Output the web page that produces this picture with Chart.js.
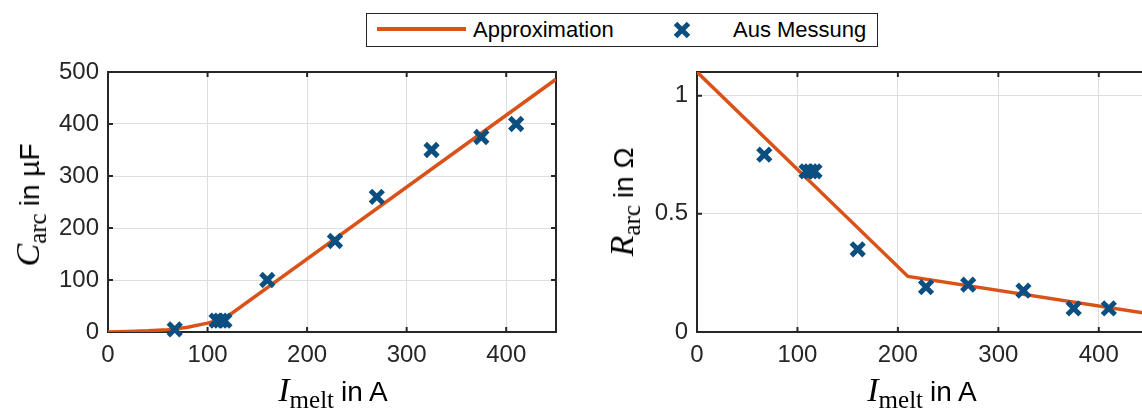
<!DOCTYPE html>
<html>
<head>
<meta charset="utf-8">
<script src="https://cdn.jsdelivr.net/npm/chart.js@4"></script>
<style>
  html, body { margin: 0; padding: 0; background: #fff; }
  body { width: 1142px; height: 419px; position: relative; overflow: hidden; }
  canvas { position: absolute; top: 0; }
  .lbl { position: absolute; white-space: nowrap; color: #000; font-family: 'Liberation Sans', Arial, sans-serif; font-size: 28px; }
  .m { font-family: 'Liberation Serif', serif; font-style: italic; font-size: 34px; }
  .s { font-family: 'Liberation Serif', serif; font-size: 25px; position: relative; top: 7px; margin-right: 7px; }
  #legend { position: absolute; left: 366px; top: 13px; width: 510px; height: 32px; border: 1px solid #262626; background: #fff;
            font-family: 'Liberation Sans', Arial, sans-serif; font-size: 22px; color: #000; }
  #legend span { position: absolute; top: 3px; }
</style>
</head>
<body>
<canvas id="cChart" width="570" height="419" style="left:0px"></canvas>
<canvas id="rChart" width="574" height="419" style="left:589px"></canvas>

<div id="legend">
  <div style="position:absolute;left:10px;top:13px;width:89px;height:4px;background:#d95319"></div>
  <span style="left:106px">Approximation</span>
  <svg style="position:absolute;left:304px;top:5px" width="22" height="22"><path d="M4.5 4.5 L17.5 17.5 M17.5 4.5 L4.5 17.5" stroke="#0b4f80" stroke-width="5"/></svg>
  <span style="left:366px">Aus Messung</span>
</div>

<div class="lbl" style="left:28px;top:205px;transform:translate(-50%,-50%) rotate(-90deg)"><span class="m">C</span><span class="s">arc</span>in µF</div>
<div class="lbl" style="left:622px;top:202px;transform:translate(-50%,-50%) rotate(-90deg)"><span class="m">R</span><span class="s">arc</span>in Ω</div>
<div class="lbl" style="left:333px;top:390px;transform:translate(-50%,-50%)"><span class="m">I</span><span class="s">melt</span>in A</div>
<div class="lbl" style="left:922px;top:390px;transform:translate(-50%,-50%)"><span class="m">I</span><span class="s">melt</span>in A</div>

<script>
// measured points (I_melt in A)
var xMess = [67, 109, 113, 117, 160, 228, 270, 325, 375, 410];
var cMess = [5, 22, 22, 22, 100, 175, 260, 350, 375, 400];
var rMess = [0.75, 0.68, 0.68, 0.68, 0.35, 0.19, 0.20, 0.175, 0.10, 0.10];

// approximation curves
var cFitX = [0, 20, 40, 60, 80, 100, 110, 120, 450];
var cFit  = [0, 1, 2.2, 4.5, 9, 17, 22, 30, 486];
var rFitX = [0, 210, 450];
var rFit  = [1.1, 0.235, 0.077];

// axis ticks
var xTicks = [0, 100, 200, 300, 400];
var cTicks = [0, 100, 200, 300, 400, 500];
var rTicks = [0, 0.5, 1];

function pts(xs, ys) {
  return xs.map(function (x, i) { return { x: x, y: ys[i] }; });
}

// matlab style box with inward ticks
var boxPlugin = {
  id: 'box',
  beforeDatasetsDraw: function (chart) {
    var ctx = chart.ctx, a = chart.chartArea, sx = chart.scales.x, sy = chart.scales.y;
    ctx.save();
    ctx.strokeStyle = '#262626';
    ctx.lineWidth = 2;
    ctx.strokeRect(a.left, a.top, a.right - a.left, a.bottom - a.top);
    ctx.beginPath();
    sx.ticks.forEach(function (t) {
      var p = sx.getPixelForValue(t.value);
      ctx.moveTo(p, a.bottom); ctx.lineTo(p, a.bottom - 5);
      ctx.moveTo(p, a.top); ctx.lineTo(p, a.top + 5);
    });
    sy.ticks.forEach(function (t) {
      var p = sy.getPixelForValue(t.value);
      ctx.moveTo(a.left, p); ctx.lineTo(a.left + 5, p);
      ctx.moveTo(a.right, p); ctx.lineTo(a.right - 5, p);
    });
    ctx.stroke();
    ctx.restore();
  }
};

function makeChart(id, mess, fitX, fit, yMax, yTicks) {
  return new Chart(document.getElementById(id), {
    type: 'scatter',
    data: {
      datasets: [{
        label: 'Aus Messung',
        data: pts(xMess, mess),
        pointStyle: 'crossRot',
        pointRadius: 9,
        pointBorderWidth: 5,
        borderColor: '#0b4f80',
        backgroundColor: '#0b4f80',
        clip: false,
        order: 0
      }, {
        label: 'Approximation',
        data: pts(fitX, fit),
        showLine: true,
        borderColor: '#d95319',
        borderWidth: 3.5,
        pointRadius: 0,
        tension: 0,
        order: 1
      }]
    },
    options: {
      responsive: false,
      animation: false,
      layout: { padding: { top: 72, right: 14, left: 0, bottom: 0 } },
      plugins: { legend: { display: false }, tooltip: { enabled: false } },
      scales: {
        x: {
          type: 'linear', min: 0, max: 450,
          afterBuildTicks: function (s) { s.ticks = xTicks.map(function (v) { return { value: v }; }); },
          afterFit: function (s) { s.height = 87; },
          grid: { color: '#dedede', lineWidth: 1, drawTicks: false },
          border: { display: false },
          ticks: { padding: 9, color: '#262626', font: { family: 'Liberation Sans', size: 24 }, maxRotation: 0,
                   callback: function (v) { return String(v); } }
        },
        y: {
          type: 'linear', min: 0, max: yMax,
          afterBuildTicks: function (s) { s.ticks = yTicks.map(function (v) { return { value: v }; }); },
          afterFit: function (s) { s.width = 108; },
          grid: { color: '#dedede', lineWidth: 1, drawTicks: false },
          border: { display: false },
          ticks: { padding: 9, color: '#262626', font: { family: 'Liberation Sans', size: 24 },
                   callback: function (v) { return String(v); } }
        }
      }
    },
    plugins: [boxPlugin]
  });
}

makeChart('cChart', cMess, cFitX, cFit, 500, cTicks);
makeChart('rChart', rMess, rFitX, rFit, 1.1, rTicks);
</script>
</body>
</html>
